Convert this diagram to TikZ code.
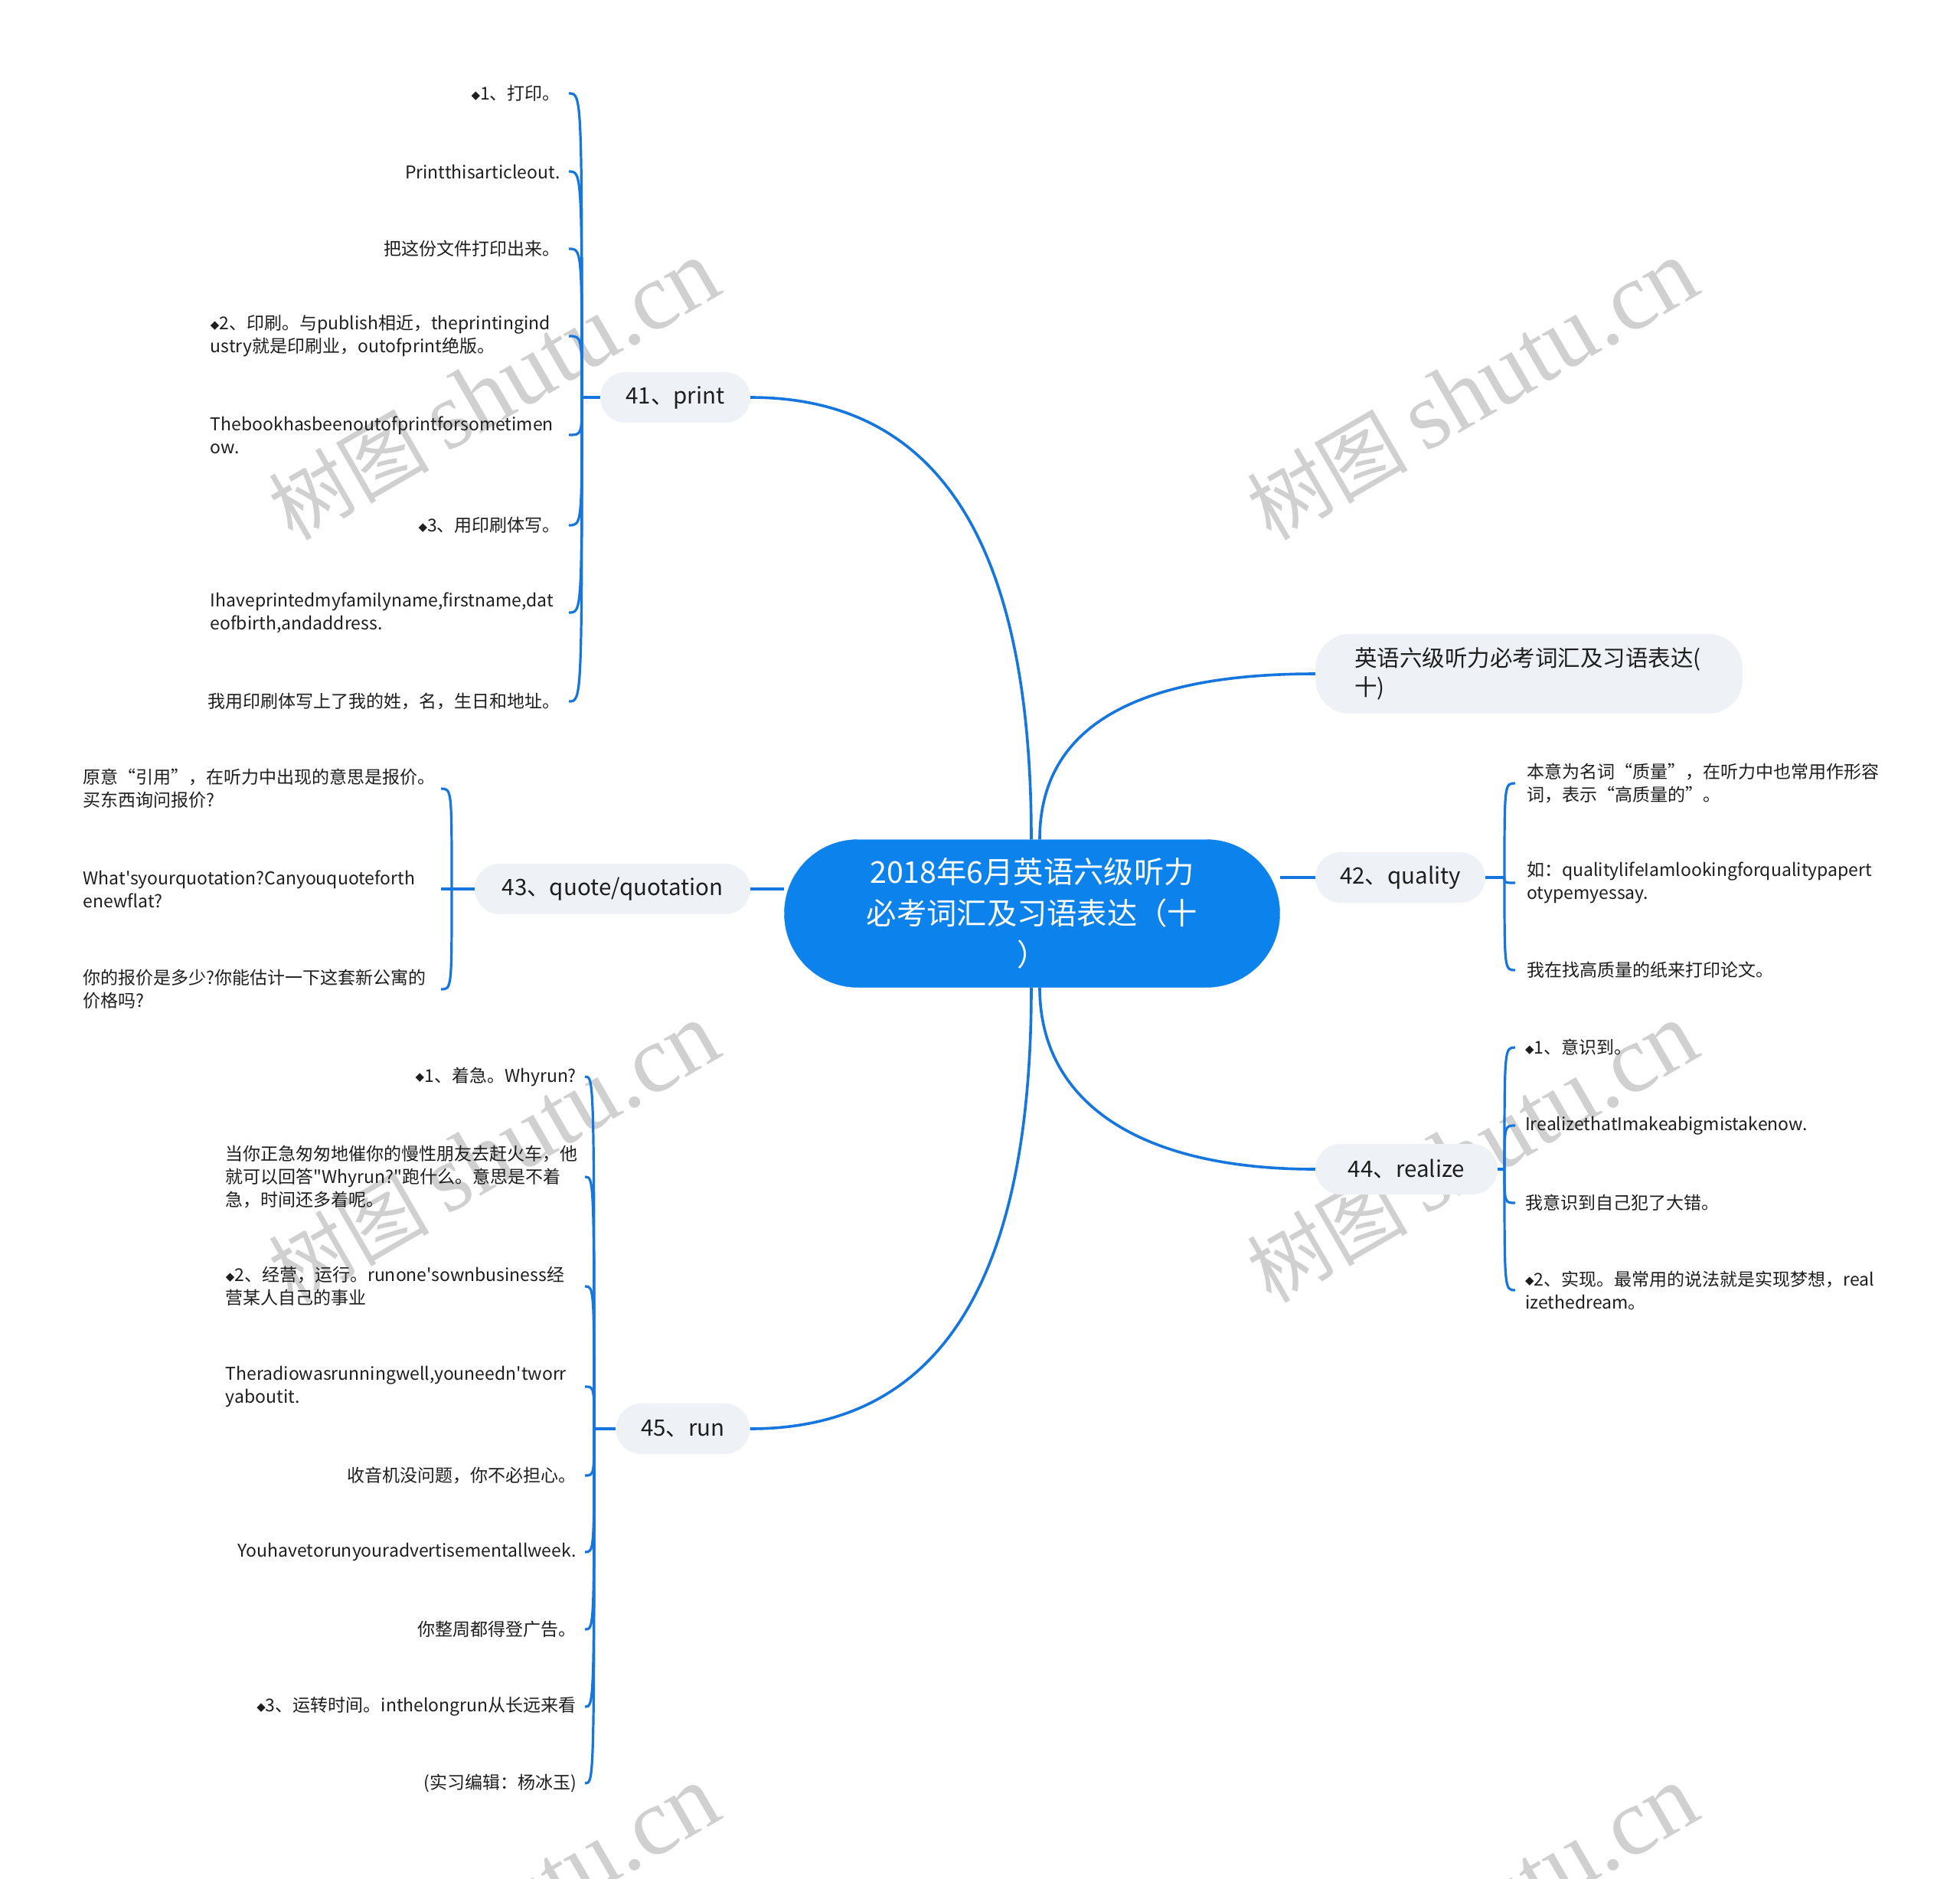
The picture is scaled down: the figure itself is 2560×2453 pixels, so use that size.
\documentclass[tikz,border=0pt]{standalone}
\usepackage{fontspec}
\newfontfamily\cjk{Noto Sans CJK SC}
\newfontfamily\dejavu{DejaVu Sans}
\newfontfamily\wmserif{Liberation Serif}
\pgfdeclarelayer{wmlayer}
\pgfdeclarelayer{linelayer}
\pgfsetlayers{wmlayer,linelayer,main}
\definecolor{lineblue}{RGB}{20,118,222}
\definecolor{mainblue}{RGB}{12,130,236}
\definecolor{topicgray}{RGB}{238,241,245}
\definecolor{txt}{RGB}{30,30,30}
\definecolor{wmgray}{RGB}{208,208,208}
\newcommand{\dia}{\raisebox{1.5pt}{\dejavu\fontsize{15}{15}\selectfont ◆}}
\tikzset{
  conn/.style={line width=3.6pt, draw=lineblue},
  lconn/.style={line width=3.2pt, draw=lineblue},
  topic/.style={fill=topicgray, rounded corners=33pt, minimum height=66pt,
    inner xsep=0pt, inner ysep=0pt, text=txt, font=\cjk\fontsize{29.5}{38}\selectfont},
  leafbase/.style={inner ysep=0pt, text=txt, align=left, font=\cjk\fontsize{23}{30}\selectfont},
  lfL/.style={leafbase, anchor=east, inner xsep=11pt},
  lfR/.style={leafbase, anchor=west, inner xsep=15pt},
  wm/.style={text=wmgray, rotate=30, inner sep=0pt},
}
\newcommand{\wmtext}{{\cjk\fontsize{105}{105}\selectfont 树图}\hspace{22pt}{\wmserif\fontsize{125}{125}\selectfont shutu.cn}}
\begin{document}
\begin{tikzpicture}[x=1pt,y=-1pt]
\useasboundingbox (0,0) rectangle (2560,2453);

% background and watermarks
\begin{pgfonlayer}{wmlayer}
\fill[white] (0,0) rectangle (2560,2453);
\begin{scope}
\clip (0,0) rectangle (2560,2453);
\node[wm] (w1) at (645,510) {\wmtext};
\node[wm] (w2) at (1923,510) {\wmtext};
\node[wm] (w3) at (645,1506) {\wmtext};
\node[wm] (w4) at (1923,1506) {\wmtext};
\node[wm] (w5) at (645,2502) {\wmtext};
\node[wm] (w6) at (1923,2502) {\wmtext};
\end{scope}
\end{pgfonlayer}

% central node
\node[fill=mainblue, draw=mainblue, rounded corners=96pt, minimum width=647pt, minimum height=193pt,
  inner sep=0pt, text=white, align=center, font=\cjk\fontsize{39.3}{54}\selectfont]
  (center) at (1348,1193) {2018年6月英语六级听力\\必考词汇及习语表达（十\\）};

% main topics
\node[topic, minimum width=196pt] (p41) at (882,519) {41、print};
\node[topic, minimum width=360pt] (p43) at (800,1161) {43、quote/quotation};
\node[topic, minimum width=175pt] (p45) at (892,1866) {45、run};
\node[topic, minimum width=222pt] (p42) at (1829,1146) {42、quality};
\node[topic, minimum width=238pt] (p44) at (1837,1527) {44、realize};
\node[topic, anchor=west, rounded corners=45pt, minimum height=104pt, inner xsep=51pt,
  text width=456pt, align=left, font=\cjk\fontsize{29.5}{38}\selectfont]
  (en) at (1718,880) {英语六级听力必考词汇及习语表达(\\十)};

% branch points
\coordinate (b41) at (760,519);
\coordinate (b43) at (590,1161);
\coordinate (b45) at (776,1866);
\coordinate (b42) at (1965,1146);
\coordinate (b44) at (1965,1527);

% 41 leaves
\node[lfL] (a1) at (743,122) {\dia1、打印。};
\node[lfL] (a2) at (743,224) {Printthisarticleout.};
\node[lfL] (a3) at (743,325) {把这份文件打印出来。};
\node[lfL, text width=457pt] (a4) at (743,439) {\dia2、印刷。与publish相近，theprintingind\\ustry就是印刷业，outofprint绝版。};
\node[lfL, text width=457pt] (a5) at (743,568) {Thebookhasbeenoutofprintforsometimen\\ow.};
\node[lfL] (a6) at (743,686) {\dia3、用印刷体写。};
\node[lfL, text width=457pt] (a7) at (743,800) {Ihaveprintedmyfamilyname,firstname,dat\\eofbirth,andaddress.};
\node[lfL] (a8) at (743,916) {我用印刷体写上了我的姓，名，生日和地址。};

% 43 leaves
\node[lfL, text width=456pt] (q1) at (576,1030) {原意“引用”，在听力中出现的意思是报价。\\买东西询问报价?};
\node[lfL, text width=456pt] (q2) at (576,1161) {What's{}yourquotation?Canyouquoteforth\\enewflat?};
\node[lfL, text width=456pt] (q3) at (576,1292) {你的报价是多少?你能估计一下这套新公寓的\\价格吗?};

% 45 leaves
\node[lfL] (t1) at (764,1406) {\dia1、着急。Whyrun?};
\node[lfL, text width=458pt] (t2) at (764,1537) {当你正急匆匆地催你的慢性朋友去赶火车，他\\就可以回答"Whyrun?"跑什么。意思是不着\\急，时间还多着呢。};
\node[lfL, text width=458pt] (t3) at (764,1680) {\dia2、经营，运行。runone's{}ownbusiness经\\营某人自己的事业};
\node[lfL, text width=458pt] (t4) at (764,1811) {Theradiowasrunningwell,youneedn'tworr\\yaboutit.};
\node[lfL] (t5) at (764,1927) {收音机没问题，你不必担心。};
\node[lfL] (t6) at (764,2027) {Youhavetorunyouradvertisementallweek.};
\node[lfL] (t7) at (764,2128) {你整周都得登广告。};
\node[lfL] (t8) at (764,2229) {\dia3、运转时间。inthelongrun从长远来看};
\node[lfL] (t9) at (764,2329) {(实习编辑：杨冰玉)};

% 42 leaves
\node[lfR, text width=458pt] (r1) at (1979,1023) {本意为名词“质量”，在听力中也常用作形容\\词，表示“高质量的”。};
\node[lfR, text width=458pt] (r2) at (1979,1153) {如：qualitylifeIamlookingforqualitypapert\\otypemyessay.};
\node[lfR] (r3) at (1979,1267) {我在找高质量的纸来打印论文。};

% 44 leaves
\node[lfR, inner xsep=13pt] (s1) at (1979,1368) {\dia1、意识到。};
\node[lfR, inner xsep=13pt] (s2) at (1979,1470) {IrealizethatImakeabigmistakenow.};
\node[lfR, inner xsep=13pt] (s3) at (1979,1571) {我意识到自己犯了大错。};
\node[lfR, inner xsep=13pt, text width=458pt] (s4) at (1979,1685) {\dia2、实现。最常用的说法就是实现梦想，real\\izethedream。};

\begin{pgfonlayer}{linelayer}
% main connectors
\draw[conn] (p41.east) .. controls +(250,0) and +(0,-380) .. ([xshift=-1pt]center.north);
\draw[conn] (en.west) .. controls +(-230,0) and +(0,-150) .. ([xshift=10pt]center.north);
\draw[conn] (p42.west) -- (p42.west -| center.east);
\draw[conn] (p43.east) -- (p43.east -| center.west);
\draw[conn] (p44.west) .. controls +(-230,0) and +(0,150) .. ([xshift=10pt]center.south);
\draw[conn] (p45.east) .. controls +(250,0) and +(0,380) .. ([xshift=-1pt]center.south);
% stubs
\draw[lconn] (p41.west) -- (b41);
\draw[lconn] (p43.west) -- (b43);
\draw[lconn] (p45.west) -- (b45);
\draw[lconn] (p42.east) -- (b42);
\draw[lconn] (p44.east) -- (b44);
% leaf brackets
\foreach \n in {a1,a2,a3,a4,a5,a6,a7,a8}
  \draw[lconn] (b41) .. controls (b41 |- \n.east) .. (\n.east);
\foreach \n in {q1,q2,q3}
  \draw[lconn] (b43) .. controls (b43 |- \n.east) .. (\n.east);
\foreach \n in {t1,t2,t3,t4,t5,t6,t7,t8,t9}
  \draw[lconn] (b45) .. controls (b45 |- \n.east) .. (\n.east);
\foreach \n in {r1,r2,r3}
  \draw[lconn] (b42) .. controls (b42 |- \n.west) .. (\n.west);
\foreach \n in {s1,s2,s3,s4}
  \draw[lconn] (b44) .. controls (b44 |- \n.west) .. (\n.west);
\end{pgfonlayer}
\end{tikzpicture}
\end{document}
